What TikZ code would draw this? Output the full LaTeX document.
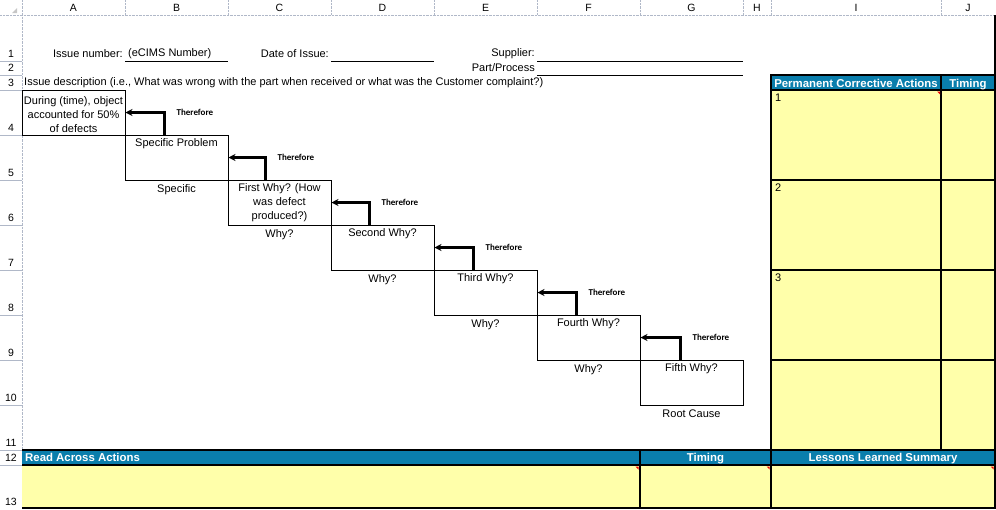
\documentclass[tikz,border=0pt]{standalone}
\usepackage{fontspec}
\setmainfont{Liberation Sans}
\newfontfamily\thereforefont{Carlito}
\usetikzlibrary{arrows.meta,positioning}
\definecolor{xlblue}{RGB}{10,126,172}
\definecolor{xlyellow}{RGB}{255,255,170}
\definecolor{xlgrid}{RGB}{176,184,200}
\definecolor{xlred}{RGB}{235,0,0}

\begin{document}
\begin{tikzpicture}[x=1pt, y=-1pt,
  font=\fontsize{10.5}{12}\selectfont,
  hdr/.style={inner sep=0pt},
  txt/.style={inner sep=0pt, font=\fontsize{11}{13}\selectfont},
  whybox/.style={draw, line width=1pt, minimum width=103pt,
    minimum height=45pt, inner sep=0pt},
  whytext/.style={align=center, inner sep=0pt,
    font=\fontsize{11}{14}\selectfont},
  ther/.style={inner sep=0pt, font=\thereforefont\bfseries\fontsize{9}{10}\selectfont},
  arr/.style={-{Stealth[length=7pt, width=7pt]}, line width=2.2pt},
  bandtext/.style={text=white, inner sep=0pt, anchor=base,
    font=\bfseries\fontsize{11.4}{13}\selectfont},
  fieldline/.style={line width=1pt},
  frame/.style={line width=2pt}]
\useasboundingbox (0,0) rectangle (996,509);
% Sheet headers
\draw[xlgrid, densely dotted] (0,15) -- (996,15) (22,0) -- (22,509);
\draw[xlgrid, densely dotted] (125,0) -- (125,15) (228,0) -- (228,15)
  (331,0) -- (331,15) (434,0) -- (434,15) (537,0) -- (537,15)
  (640,0) -- (640,15) (743,0) -- (743,15) (771,0) -- (771,15)
  (941,0) -- (941,15);
\draw[xlgrid] (0,61) -- (22,61) (0,75) -- (22,75) (0,90) -- (22,90)
  (0,135) -- (22,135) (0,180) -- (22,180) (0,225) -- (22,225)
  (0,270) -- (22,270) (0,315) -- (22,315) (0,360) -- (22,360)
  (0,405) -- (22,405) (0,450) -- (22,450) (0,465) -- (22,465);
\fill[gray!45] (17,8) -- (17,13) -- (12,13) -- cycle;
\node[hdr] (colA) at (73.5,7.5) {A};
\node[hdr] (colB) at (176.5,7.5) {B};
\node[hdr] (colC) at (279.5,7.5) {C};
\node[hdr] (colD) at (382.5,7.5) {D};
\node[hdr] (colE) at (485.5,7.5) {E};
\node[hdr] (colF) at (588.5,7.5) {F};
\node[hdr] (colG) at (691.5,7.5) {G};
\node[hdr] (colH) at (757,7.5) {H};
\node[hdr] (colI) at (856,7.5) {I};
\node[hdr] (colJ) at (968,7.5) {J};
\node[hdr] (row1) at (11,54) {1};
\node[hdr] (row2) at (11,68) {2};
\node[hdr] (row3) at (11,83) {3};
\node[hdr] (row4) at (11,128) {4};
\node[hdr] (row5) at (11,173) {5};
\node[hdr] (row6) at (11,218) {6};
\node[hdr] (row7) at (11,263) {7};
\node[hdr] (row8) at (11,308) {8};
\node[hdr] (row9) at (11,353) {9};
\node[hdr] (row10) at (11,398) {10};
\node[hdr] (row11) at (11,443) {11};
\node[hdr] (row12) at (11,458) {12};
\node[hdr] (row13) at (11,502) {13};
% Issue fields
\node[txt, anchor=east] (issno) at (123,54) {Issue number:};
\node[txt, anchor=west] (ecims) at (128,54) {(eCIMS Number)};
\node[txt, anchor=east] (issdate) at (329,54) {Date of Issue:};
\node[txt, anchor=east] (supp) at (535,54) {Supplier:};
\node[txt, anchor=east] (part) at (535,68) {Part/Process};
\node[txt, anchor=west] (desc) at (24,83) {Issue description (i.e., What was wrong with the part when received or what was the Customer complaint?)};
\draw[fieldline] (125,61) -- (228,61) (331,61) -- (434,61)
  (537,61) -- (743,61) (537,75.5) -- (743,75.5);
% Why boxes
\node[whybox] (b1) at (73.5,112.5) {};
\node[whybox] (b2) at (176.5,157.5) {};
\node[whybox] (b3) at (279.5,202.5) {};
\node[whybox] (b4) at (382.5,247.5) {};
\node[whybox] (b5) at (485.5,292.5) {};
\node[whybox] (b6) at (588.5,337.5) {};
\node[whybox] (b7) at (691.5,382.5) {};
\node[whytext, below=7pt of b1.north] (q1) {During (time), object\\accounted for 50\%\\of defects};
\node[whytext, below=4pt of b2.north] (q2) {Specific Problem};
\node[whytext, below=4pt of b3.north] (q3) {First Why? (How\\was defect\\produced?)};
\node[whytext, below=4pt of b4.north] (q4) {Second Why?};
\node[whytext, below=4pt of b5.north] (q5) {Third Why?};
\node[whytext, below=4pt of b6.north] (q6) {Fourth Why?};
\node[whytext, below=4pt of b7.north] (q7) {Fifth Why?};
\node[whytext, below=4pt of b2.south] (u2) {Specific};
\node[whytext, below=4pt of b3.south] (u3) {Why?};
\node[whytext, below=4pt of b4.south] (u4) {Why?};
\node[whytext, below=4pt of b5.south] (u5) {Why?};
\node[whytext, below=4pt of b6.south] (u6) {Why?};
\node[whytext, below=4pt of b7.south] (u7) {Root Cause};
% Therefore arrows
\draw[arr] ([xshift=40pt]b2.north west) |- (b1.east) node[pos=0.5, ther, right=11pt] {Therefore};
\draw[arr] ([xshift=38pt]b3.north west) |- (b2.east) node[pos=0.5, ther, right=11pt] {Therefore};
\draw[arr] ([xshift=39pt]b4.north west) |- (b3.east) node[pos=0.5, ther, right=11pt] {Therefore};
\draw[arr] ([xshift=40pt]b5.north west) |- (b4.east) node[pos=0.5, ther, right=11pt] {Therefore};
\draw[arr] ([xshift=40pt]b6.north west) |- (b5.east) node[pos=0.5, ther, right=11pt] {Therefore};
\draw[arr] ([xshift=41pt]b7.north west) |- (b6.east) node[pos=0.5, ther, right=11pt] {Therefore};
% Permanent corrective actions
\fill[xlblue] (771,75) rectangle (995,90);
\fill[xlyellow] (771,90) rectangle (995,450);
\draw[frame] (771,75) rectangle (995,450);
\draw[frame] (771,90) -- (995,90) (771,180) -- (995,180) (771,270) -- (995,270)
  (771,360) -- (995,360) (941,75) -- (941,450);
\fill[xlred] (937,91.5) -- (940,91.5) -- (940,94.5) -- cycle;
\node[bandtext] (pca) at (856,87) {Permanent Corrective Actions};
\node[bandtext] (pcatime) at (968,87) {Timing};
\node[txt, anchor=west] (pca1) at (775,98) {1};
\node[txt, anchor=west] (pca2) at (775,188) {2};
\node[txt, anchor=west] (pca3) at (775,278) {3};
% Read across and lessons learned
\fill[xlblue] (22,450) rectangle (995,465);
\fill[xlyellow] (22,465) rectangle (995,508);
\draw[frame] (22,450) -- (995,450) (22,465) -- (995,465) (22,508) -- (995,508);
\draw[frame] (640,450) -- (640,508) (771,450) -- (771,508) (995,15) -- (995,509);
\fill[xlred] (635.5,466.5) -- (638.5,466.5) -- (638.5,469.5) -- cycle;
\fill[xlred] (766.5,466.5) -- (769.5,466.5) -- (769.5,469.5) -- cycle;
\fill[xlred] (990.5,466.5) -- (993.5,466.5) -- (993.5,469.5) -- cycle;
\node[bandtext, anchor=base west] (raa) at (25,461.5) {Read Across Actions};
\node[bandtext] (raatime) at (705.5,461.5) {Timing};
\node[bandtext] (lls) at (883,461.5) {Lessons Learned Summary};
\end{tikzpicture}
\end{document}
